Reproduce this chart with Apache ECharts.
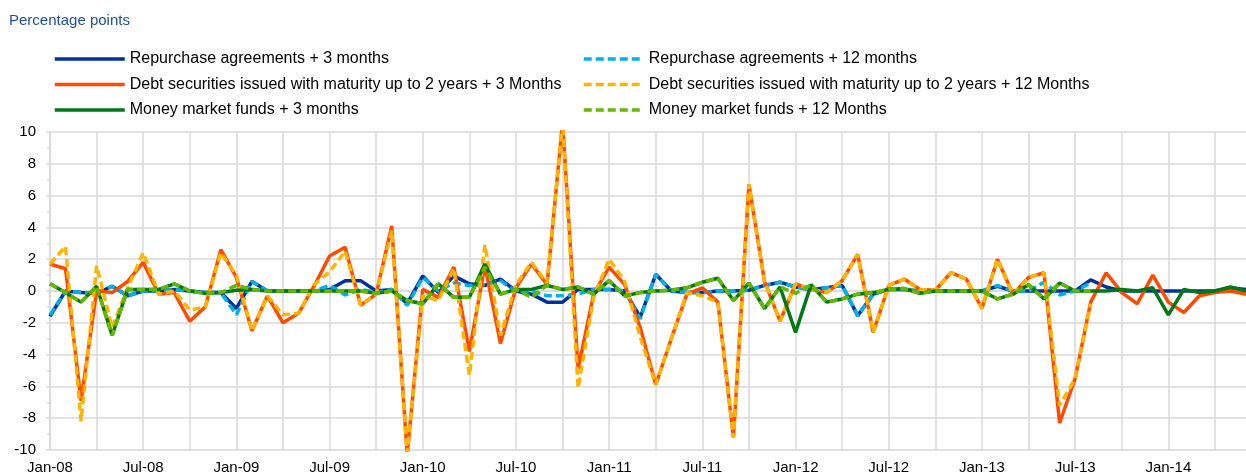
<!DOCTYPE html>
<html>
<head>
<meta charset="utf-8">
<script src="https://cdn.jsdelivr.net/npm/echarts@6/dist/echarts.min.js"></script>
<style>
  html, body { margin: 0; padding: 0; background: #fff; }
  #chart { width: 1246px; height: 475px; }
</style>
</head>
<body>
<div id="chart"></div>
<script>
// ---- Data ----
const categories = [
  'Jan-08','Feb-08','Mar-08','Apr-08','May-08','Jun-08','Jul-08','Aug-08','Sep-08','Oct-08','Nov-08','Dec-08',
  'Jan-09','Feb-09','Mar-09','Apr-09','May-09','Jun-09','Jul-09','Aug-09','Sep-09','Oct-09','Nov-09','Dec-09',
  'Jan-10','Feb-10','Mar-10','Apr-10','May-10','Jun-10','Jul-10','Aug-10','Sep-10','Oct-10','Nov-10','Dec-10',
  'Jan-11','Feb-11','Mar-11','Apr-11','May-11','Jun-11','Jul-11','Aug-11','Sep-11','Oct-11','Nov-11','Dec-11',
  'Jan-12','Feb-12','Mar-12','Apr-12','May-12','Jun-12','Jul-12','Aug-12','Sep-12','Oct-12','Nov-12','Dec-12',
  'Jan-13','Feb-13','Mar-13','Apr-13','May-13','Jun-13','Jul-13','Aug-13','Sep-13','Oct-13','Nov-13','Dec-13',
  'Jan-14','Feb-14','Mar-14','Apr-14','May-14','Jun-14'
];

const seriesNames = [
  'Repurchase agreements + 3 months',
  'Repurchase agreements + 12 months',
  'Debt securities issued with maturity up to 2 years + 3 Months',
  'Debt securities issued with maturity up to 2 years + 12 Months',
  'Money market funds + 3 months',
  'Money market funds + 12 Months'
];

const repo3 = [
  -1.6,0.0,-0.1,-0.15,0.3,-0.3,0.0,0.0,0.1,0.0,-0.1,-0.1,
  -1.1,0.6,0.0,0.0,0.0,0.0,0.1,0.65,0.65,0.0,0.1,-0.8,
  0.95,-0.1,0.95,0.45,0.35,0.75,0.0,-0.2,-0.7,-0.7,0.1,0.1,
  0.1,0.0,-1.65,1.05,0.0,-0.1,-0.1,0.0,0.0,0.05,0.35,0.55,
  0.25,0.1,0.2,0.35,-1.55,-0.2,0.1,0.1,0.0,0.0,0.0,0.0,
  0.0,0.3,0.0,0.0,0.0,0.0,0.0,0.7,0.25,0.0,0.0,0.0,
  0.0,0.0,0.0,0.0,0.2,0.1
];
const repo12 = [
  -1.5,0.0,-0.1,-0.15,0.3,-0.3,0.0,0.0,0.1,0.0,-0.1,-0.1,
  -1.5,0.6,0.0,0.0,0.0,0.0,0.35,-0.25,0.1,-0.1,0.1,-0.9,
  0.85,0.0,0.5,0.35,0.4,0.65,-0.05,0.0,-0.3,-0.3,-0.2,0.1,
  0.1,0.0,-1.75,1.05,0.0,-0.1,-0.1,0.0,0.0,0.05,0.35,0.55,
  0.25,0.1,0.2,0.35,-1.55,-0.2,0.1,0.1,0.0,0.0,0.0,0.0,
  0.0,0.35,0.0,0.0,0.55,-0.25,0.0,0.5
];
const debt3 = [
  1.7,1.4,-6.9,0.0,-0.1,0.6,1.8,-0.2,-0.1,-1.9,-1.0,2.6,
  0.85,-2.5,-0.3,-2.0,-1.4,0.3,2.2,2.75,-0.9,-0.2,4.1,-10.3,
  0.1,-0.4,1.5,-3.8,1.6,-3.3,0.2,1.7,0.4,10.6,-4.9,-0.2,
  1.5,0.4,-2.3,-5.9,-3.0,-0.2,0.2,-0.7,-9.2,6.7,0.6,-1.9,
  0.45,0.1,-0.1,0.65,2.3,-2.6,0.35,0.75,0.1,0.05,1.15,0.75,
  -1.1,2.0,-0.2,0.85,1.15,-8.3,-5.5,-0.7,1.15,-0.1,-0.8,1.0,
  -0.7,-1.35,-0.3,-0.1,0.0,-0.2
];
const debt12 = [
  1.7,2.8,-8.2,1.6,-2.3,0.2,2.4,-0.2,0.0,-1.2,-1.0,2.4,
  1.0,-2.5,-0.3,-1.5,-1.4,0.4,1.2,2.5,-0.9,-0.2,3.8,-10.2,
  -0.3,-0.6,1.4,-5.3,2.9,-2.8,0.4,1.8,0.5,10.6,-6.1,-0.4,
  2.0,0.6,-2.9,-5.9,-3.0,-0.1,-0.3,-0.7,-9.2,6.7,0.6,-1.9,
  0.45,0.1,-0.1,0.65,2.3,-2.6,0.35,0.75,0.1,0.05,1.15,0.75,
  -1.1,2.0,-0.2,0.85,1.15,-7.2,-5.5,-0.8
];
const mmf3 = [
  0.45,-0.1,-0.7,0.3,-2.8,0.1,0.1,0.1,0.45,0.0,-0.15,-0.1,
  0.05,0.1,0.0,0.0,0.0,0.0,0.0,0.0,0.0,-0.15,0.0,-0.6,
  -0.8,0.45,-0.4,-0.4,1.7,-0.2,0.1,0.1,0.35,0.1,0.25,-0.2,
  0.65,-0.3,-0.1,0.0,0.05,0.2,0.55,0.8,-0.6,0.5,-1.1,0.25,
  -2.6,0.4,-0.7,-0.5,-0.2,-0.1,0.1,0.15,-0.15,0.0,0.0,0.0,
  0.0,-0.5,-0.2,0.4,-0.5,0.5,0.0,0.0,0.0,0.1,0.0,0.2,
  -1.5,0.1,-0.1,0.0,0.25,0.0
];
const mmf12 = [
  0.45,-0.1,-0.7,0.3,-2.8,0.1,0.1,0.1,0.45,0.0,-0.15,-0.1,
  0.35,0.1,0.0,0.0,0.0,0.0,0.0,0.0,0.0,-0.15,0.0,-0.6,
  -0.8,0.45,-0.4,-0.4,1.5,-0.2,0.1,-0.4,0.35,0.1,0.25,-0.2,
  0.65,-0.3,-0.1,0.0,0.05,0.2,0.55,0.8,-0.6,0.5,-1.1,0.25,
  -0.15,0.4,-0.7,-0.5,-0.2,-0.1,0.1,0.15,-0.15,0.0,0.0,0.0,
  0.0,-0.5,-0.2,0.4,-0.5,0.5,0.0,0.0
];

const yMin = -10, yMax = 10, yStep = 2;

// ---- Chart ----
const colors = ['#003299', '#00b1ea', '#ff4b00', '#ffb400', '#007816', '#65b800'];
const dashed = [false, true, false, true, false, true];
const dataList = [repo3, repo12, debt3, debt12, mmf3, mmf12];

const font = 'Liberation Sans, Arial, sans-serif';

const series = dataList.map((d, k) => ({
  name: seriesNames[k],
  type: 'line',
  data: d,
  showSymbol: false,
  symbol: 'none',
  smooth: false,
  z: 2 + k,
  lineStyle: {
    color: colors[k],
    width: 3.5,
    type: dashed[k] ? [8, 4] : 'solid'
  },
  itemStyle: { color: colors[k] }
}));

const legendCommon = {
  orient: 'vertical',
  top: 51,
  padding: 0,
  itemHeight: 14,
  itemGap: 9.5,
  itemStyle: { opacity: 0 },
  lineStyle: { width: 3.5 },
  textStyle: { fontFamily: font, fontSize: 16, color: '#000', lineHeight: 16 },
  selectedMode: false
};

const chart = echarts.init(document.getElementById('chart'), null, { renderer: 'canvas' });
chart.setOption({
  animation: false,
  backgroundColor: '#fff',
  title: {
    text: 'Percentage points',
    left: 9,
    top: 13,
    padding: 0,
    textStyle: { fontFamily: font, fontSize: 15, fontWeight: 'normal', color: '#1f4e9f' }
  },
  legend: [
    Object.assign({}, legendCommon, {
      left: 53, itemWidth: 70,
      data: [seriesNames[0], seriesNames[2], seriesNames[4]]
    }),
    Object.assign({}, legendCommon, {
      left: 582, itemWidth: 60,
      data: [seriesNames[1], seriesNames[3], seriesNames[5]]
    })
  ],
  grid: { left: 50, right: -8, top: 132, bottom: 24, containLabel: false },
  xAxis: {
    type: 'category',
    data: categories,
    boundaryGap: false,
    axisLine: { show: true, lineStyle: { color: '#d9d9d9', width: 1.5 } },
    axisTick: { show: true, interval: 5, length: 5, lineStyle: { color: '#d9d9d9', width: 1.5 } },
    axisLabel: { interval: 5, margin: 10, fontFamily: font, fontSize: 15, color: '#000' },
    splitLine: { show: true, interval: 2, lineStyle: { color: '#d9d9d9', width: 1.5 } }
  },
  yAxis: {
    type: 'value',
    min: yMin, max: yMax, interval: yStep,
    axisLine: { show: true, lineStyle: { color: '#d9d9d9', width: 1.5 } },
    axisTick: { show: true, length: 4, lineStyle: { color: '#d9d9d9', width: 1.5 } },
    minorTick: { show: true, splitNumber: 2, length: 3, lineStyle: { color: '#d9d9d9', width: 1.5 } },
    axisLabel: { margin: 14, fontFamily: font, fontSize: 15, color: '#000' },
    splitLine: { show: true, lineStyle: { color: '#d9d9d9', width: 1.5 } }
  },
  series: series
});
</script>
</body>
</html>
